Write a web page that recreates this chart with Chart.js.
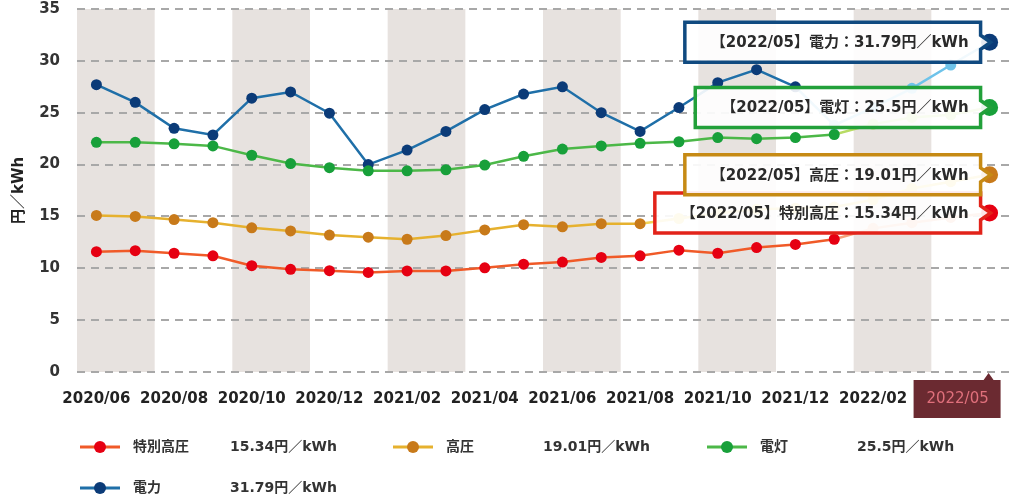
<!DOCTYPE html>
<html>
<head>
<meta charset="utf-8">
<script src="https://cdn.jsdelivr.net/npm/chart.js@4/dist/chart.umd.min.js"></script>
<style>
  html, body { margin: 0; padding: 0; background: #fff; overflow: hidden; }
</style>
</head>
<body>
<canvas id="myChart" width="1009" height="500"></canvas>
<script>
// months 2020/06 .. 2022/05
const months = ["2020/06","2020/07","2020/08","2020/09","2020/10","2020/11","2020/12","2021/01",
  "2021/02","2021/03","2021/04","2021/05","2021/06","2021/07","2021/08","2021/09",
  "2021/10","2021/11","2021/12","2022/01","2022/02","2022/03","2022/04","2022/05"];

const tokubetsu = [11.6, 11.7, 11.45, 11.2, 10.25, 9.9, 9.77, 9.6, 9.75, 9.75, 10.05, 10.4,
  10.6, 11.05, 11.2, 11.75, 11.45, 12.0, 12.3, 12.8, 13.85, 14.4, 14.9, 15.34];
const kouatsu = [15.1, 15.0, 14.7, 14.4, 13.9, 13.6, 13.2, 13.0, 12.8, 13.15, 13.7, 14.2,
  14.0, 14.3, 14.3, 14.8, 15.3, 15.7, 15.8, 15.9, 16.6, 17.7, 18.35, 19.01];
const dentou = [22.15, 22.15, 22.0, 21.8, 20.9, 20.1, 19.7, 19.4, 19.4, 19.5, 19.95, 20.8,
  21.5, 21.8, 22.05, 22.2, 22.6, 22.5, 22.6, 22.9, 23.9, 24.55, 24.8, 25.5];
const denryoku = [27.7, 26.0, 23.5, 22.85, 26.4, 27.0, 24.95, 20.0, 21.4, 23.2, 25.3, 26.8,
  27.5, 25.0, 23.2, 25.5, 27.9, 29.15, 27.5, 23.8, 25.5, 27.35, 29.6, 31.79];

const names = ["特別高圧", "高圧", "電灯", "電力"];
const unit = "円／kWh";
const yTicks = [0, 5, 10, 15, 20, 25, 30, 35];

const FONT = '"DejaVu Sans", "Noto Sans CJK JP", sans-serif';
const lastIdx = months.length - 1;

function makeSet(label, data, line, dot, light, fade) {
  const n = data.length;
  return {
    label: label,
    data: data,
    borderColor: line,
    borderWidth: 2.5,
    pointBackgroundColor: data.map((v, i) => (i > fade && i < n - 1) ? light : dot),
    pointBorderWidth: 0,
    pointRadius: data.map((v, i) => i === n - 1 ? 8.5 : 5.5),
    pointHoverRadius: 6,
    tension: 0,
    dotColor: dot,
    segment: {
      borderColor: c => c.p0DataIndex >= fade ? light : undefined
    }
  };
}

// gray bands + highlighted label for the latest month
const bands = {
  id: "bands",
  beforeDraw(chart) {
    const { ctx, chartArea, scales: { x } } = chart;
    const w = x.getPixelForValue(1) - x.getPixelForValue(0);
    ctx.save();
    ctx.fillStyle = "#e7e2df";
    for (let i = 0; i < months.length; i += 4) {
      ctx.fillRect(x.getPixelForValue(i) - w / 2, chartArea.top, w * 2, chartArea.bottom - chartArea.top);
    }
    const px = x.getPixelForValue(lastIdx);
    const top = chartArea.bottom + 8;
    ctx.fillStyle = "#6b2a31";
    ctx.beginPath();
    ctx.moveTo(px - 76, top);
    ctx.lineTo(px - 6, top);
    ctx.lineTo(px - 1, chartArea.bottom + 1);
    ctx.lineTo(px + 4, top);
    ctx.lineTo(px + 11, top);
    ctx.lineTo(px + 11, top + 38);
    ctx.lineTo(px - 76, top + 38);
    ctx.closePath();
    ctx.fill();
    ctx.fillStyle = "#e0707c";
    ctx.font = "15px " + FONT;
    ctx.textAlign = "center";
    ctx.textBaseline = "middle";
    ctx.fillText(months[lastIdx], px - 32, top + 19);
    ctx.restore();
  }
};

// callout boxes at the last point of each series
const callouts = {
  id: "callouts",
  afterDatasetsDraw(chart) {
    const { ctx } = chart;
    ctx.save();
    ctx.font = "bold 15px " + FONT;
    chart.data.datasets.forEach((ds, di) => {
      const meta = chart.getDatasetMeta(di);
      const pt = meta.data[meta.data.length - 1];
      const last = ds.data[ds.data.length - 1];
      const text = "【" + months[lastIdx] + "】" + ds.label + "：" + last + unit;
      const tw = ctx.measureText(text).width;
      const right = pt.x - 9;
      const left = right - tw - 38;
      const top = pt.y - 20, bottom = pt.y + 20;
      ctx.beginPath();
      ctx.moveTo(left, top);
      ctx.lineTo(right, top);
      ctx.lineTo(right, pt.y - 7);
      ctx.lineTo(right + 10, pt.y);
      ctx.lineTo(right, pt.y + 7);
      ctx.lineTo(right, bottom);
      ctx.lineTo(left, bottom);
      ctx.closePath();
      ctx.fillStyle = "rgba(255,255,255,0.9)";
      ctx.fill();
      ctx.lineWidth = 3.5;
      ctx.strokeStyle = ds.calloutColor;
      ctx.stroke();
      ctx.fillStyle = "#2a2a2a";
      ctx.textAlign = "right";
      ctx.textBaseline = "middle";
      ctx.fillText(text, right - 12, pt.y + 1);
    });
    ctx.restore();
  }
};

// legend drawn below the chart
const legendRows = {
  id: "legendRows",
  afterDraw(chart) {
    const { ctx } = chart;
    const cols = [80, 393, 707];
    const rows = [447, 488];
    ctx.save();
    ctx.font = "bold 14px " + FONT;
    ctx.textBaseline = "middle";
    chart.data.datasets.forEach((ds, i) => {
      const x = cols[i % 3], y = rows[Math.floor(i / 3)];
      ctx.strokeStyle = ds.borderColor;
      ctx.lineWidth = 3;
      ctx.beginPath();
      ctx.moveTo(x, y);
      ctx.lineTo(x + 40, y);
      ctx.stroke();
      ctx.fillStyle = ds.dotColor;
      ctx.beginPath();
      ctx.arc(x + 20, y, 6, 0, Math.PI * 2);
      ctx.fill();
      ctx.fillStyle = "#333";
      ctx.fillText(ds.label, x + 53, y);
      ctx.fillText(ds.data[ds.data.length - 1] + unit, x + 150, y);
    });
    ctx.restore();
  }
};

const ctx = document.getElementById("myChart");
const red = makeSet(names[0], tokubetsu, "#f05a28", "#e60012", "#f5a27a", 19);
red.calloutColor = "#e2231a";
const orange = makeSet(names[1], kouatsu, "#e6b12e", "#c87a1a", "#f2d458", 14);
orange.calloutColor = "#c68a14";
const green = makeSet(names[2], dentou, "#4cb848", "#18a03a", "#b8dc64", 19);
green.calloutColor = "#22a03a";
const blue = makeSet(names[3], denryoku, "#1f6fa8", "#0b3b78", "#6ec3ea", 18);
blue.calloutColor = "#104a80";

new Chart(ctx, {
  type: "line",
  data: {
    labels: months,
    datasets: [red, orange, green, blue]
  },
  options: {
    responsive: false,
    animation: false,
    devicePixelRatio: 1,
    layout: { autoPadding: false, padding: { left: 0, right: -9, top: 9, bottom: 78 } },
    plugins: {
      legend: { display: false },
      tooltip: { enabled: false }
    },
    scales: {
      x: {
        offset: true,
        grid: { display: false, drawTicks: false },
        border: { display: false },
        ticks: {
          autoSkip: false,
          maxRotation: 0,
          padding: 18,
          font: { family: FONT, size: 15, weight: "bold" },
          color: "#222",
          // every 2nd month; the latest month is drawn in its own box
          callback: (v, i) => (i % 2 === 0 && i < lastIdx - 1) ? months[i] : ""
        },
        afterFit: s => { s.height = 50; s.paddingLeft = 0; s.paddingRight = 0; }
      },
      y: {
        min: 0,
        max: 35,
        afterBuildTicks: s => { s.ticks = yTicks.map(v => ({ value: v })); },
        grid: {
          color: "#a8a8a8",
          lineWidth: 2,
          drawTicks: false
        },
        border: { display: false, dash: [8, 6] },
        ticks: {
          padding: 17,
          font: { family: FONT, size: 15, weight: "bold" },
          color: "#333"
        },
        title: {
          display: true,
          text: "円／kWh",
          font: { family: FONT, size: 15, weight: "bold" },
          color: "#222",
          padding: { top: 10, bottom: 0 }
        },
        afterFit: s => { s.width = 77; s.paddingTop = 0; s.paddingBottom = 0; }
      }
    }
  },
  plugins: [bands, callouts, legendRows]
});
</script>
</body>
</html>
